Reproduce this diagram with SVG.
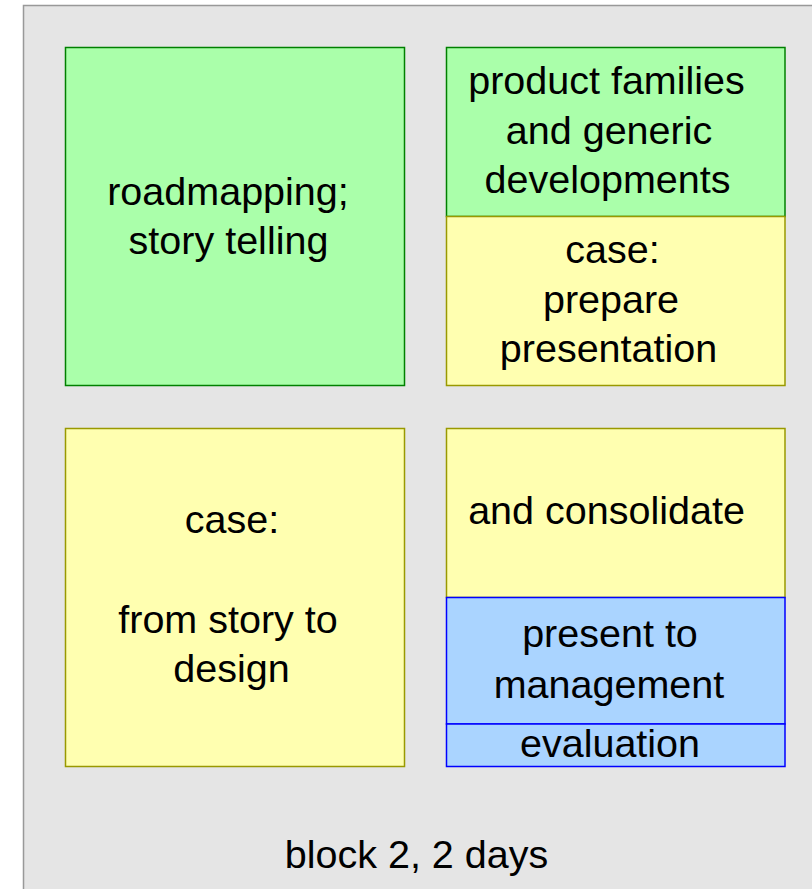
<svg xmlns="http://www.w3.org/2000/svg" width="812" height="889" viewBox="0 0 812 889">
<style>
text{font-family:"Liberation Sans",Arial,sans-serif;font-size:39.5px;fill:#000;text-anchor:middle}
.g{fill:#aaffaa;stroke:#008000;stroke-width:1.5}
.y{fill:#ffffb0;stroke:#999900;stroke-width:1.5}
.b{fill:#aad4ff;stroke:#0000ff;stroke-width:1.5}
</style>
<rect id="frame" x="23.5" y="5.5" width="800" height="900" fill="#e5e5e5" stroke="#999999" stroke-width="1.5"/>
<g id="roadmapping">
<rect class="g" x="65.5" y="47.5" width="339" height="338"/>
<text x="228" y="205">roadmapping;</text>
<text x="228.5" y="254">story telling</text>
</g>
<g id="product-families">
<rect class="g" x="446.5" y="47.5" width="338.5" height="169"/>
<text x="606.5" y="94">product families</text>
<text x="609" y="144">and generic</text>
<text x="607.5" y="193">developments</text>
</g>
<g id="case-prepare">
<rect class="y" x="446.5" y="216.5" width="338.5" height="169"/>
<text x="612.5" y="263">case:</text>
<text x="611" y="313">prepare</text>
<text x="608.5" y="362">presentation</text>
</g>
<g id="case-story">
<rect class="y" x="65.5" y="428.5" width="339" height="338"/>
<text x="232" y="533">case:</text>
<text x="228" y="633">from story to</text>
<text x="231.5" y="682">design</text>
</g>
<g id="consolidate">
<rect class="y" x="446.5" y="428.5" width="338.5" height="169"/>
<text x="606.5" y="524">and consolidate</text>
</g>
<g id="present">
<rect class="b" x="446.5" y="597.5" width="338.5" height="126.5"/>
<text x="610" y="647">present to</text>
<text x="609" y="698">management</text>
</g>
<g id="evaluation">
<rect class="b" x="446.5" y="724" width="338.5" height="42.5"/>
<text x="610" y="757">evaluation</text>
</g>
<g id="connectors"/>
<g id="caption">
<text x="416.5" y="868">block 2, 2 days</text>
</g>
</svg>
